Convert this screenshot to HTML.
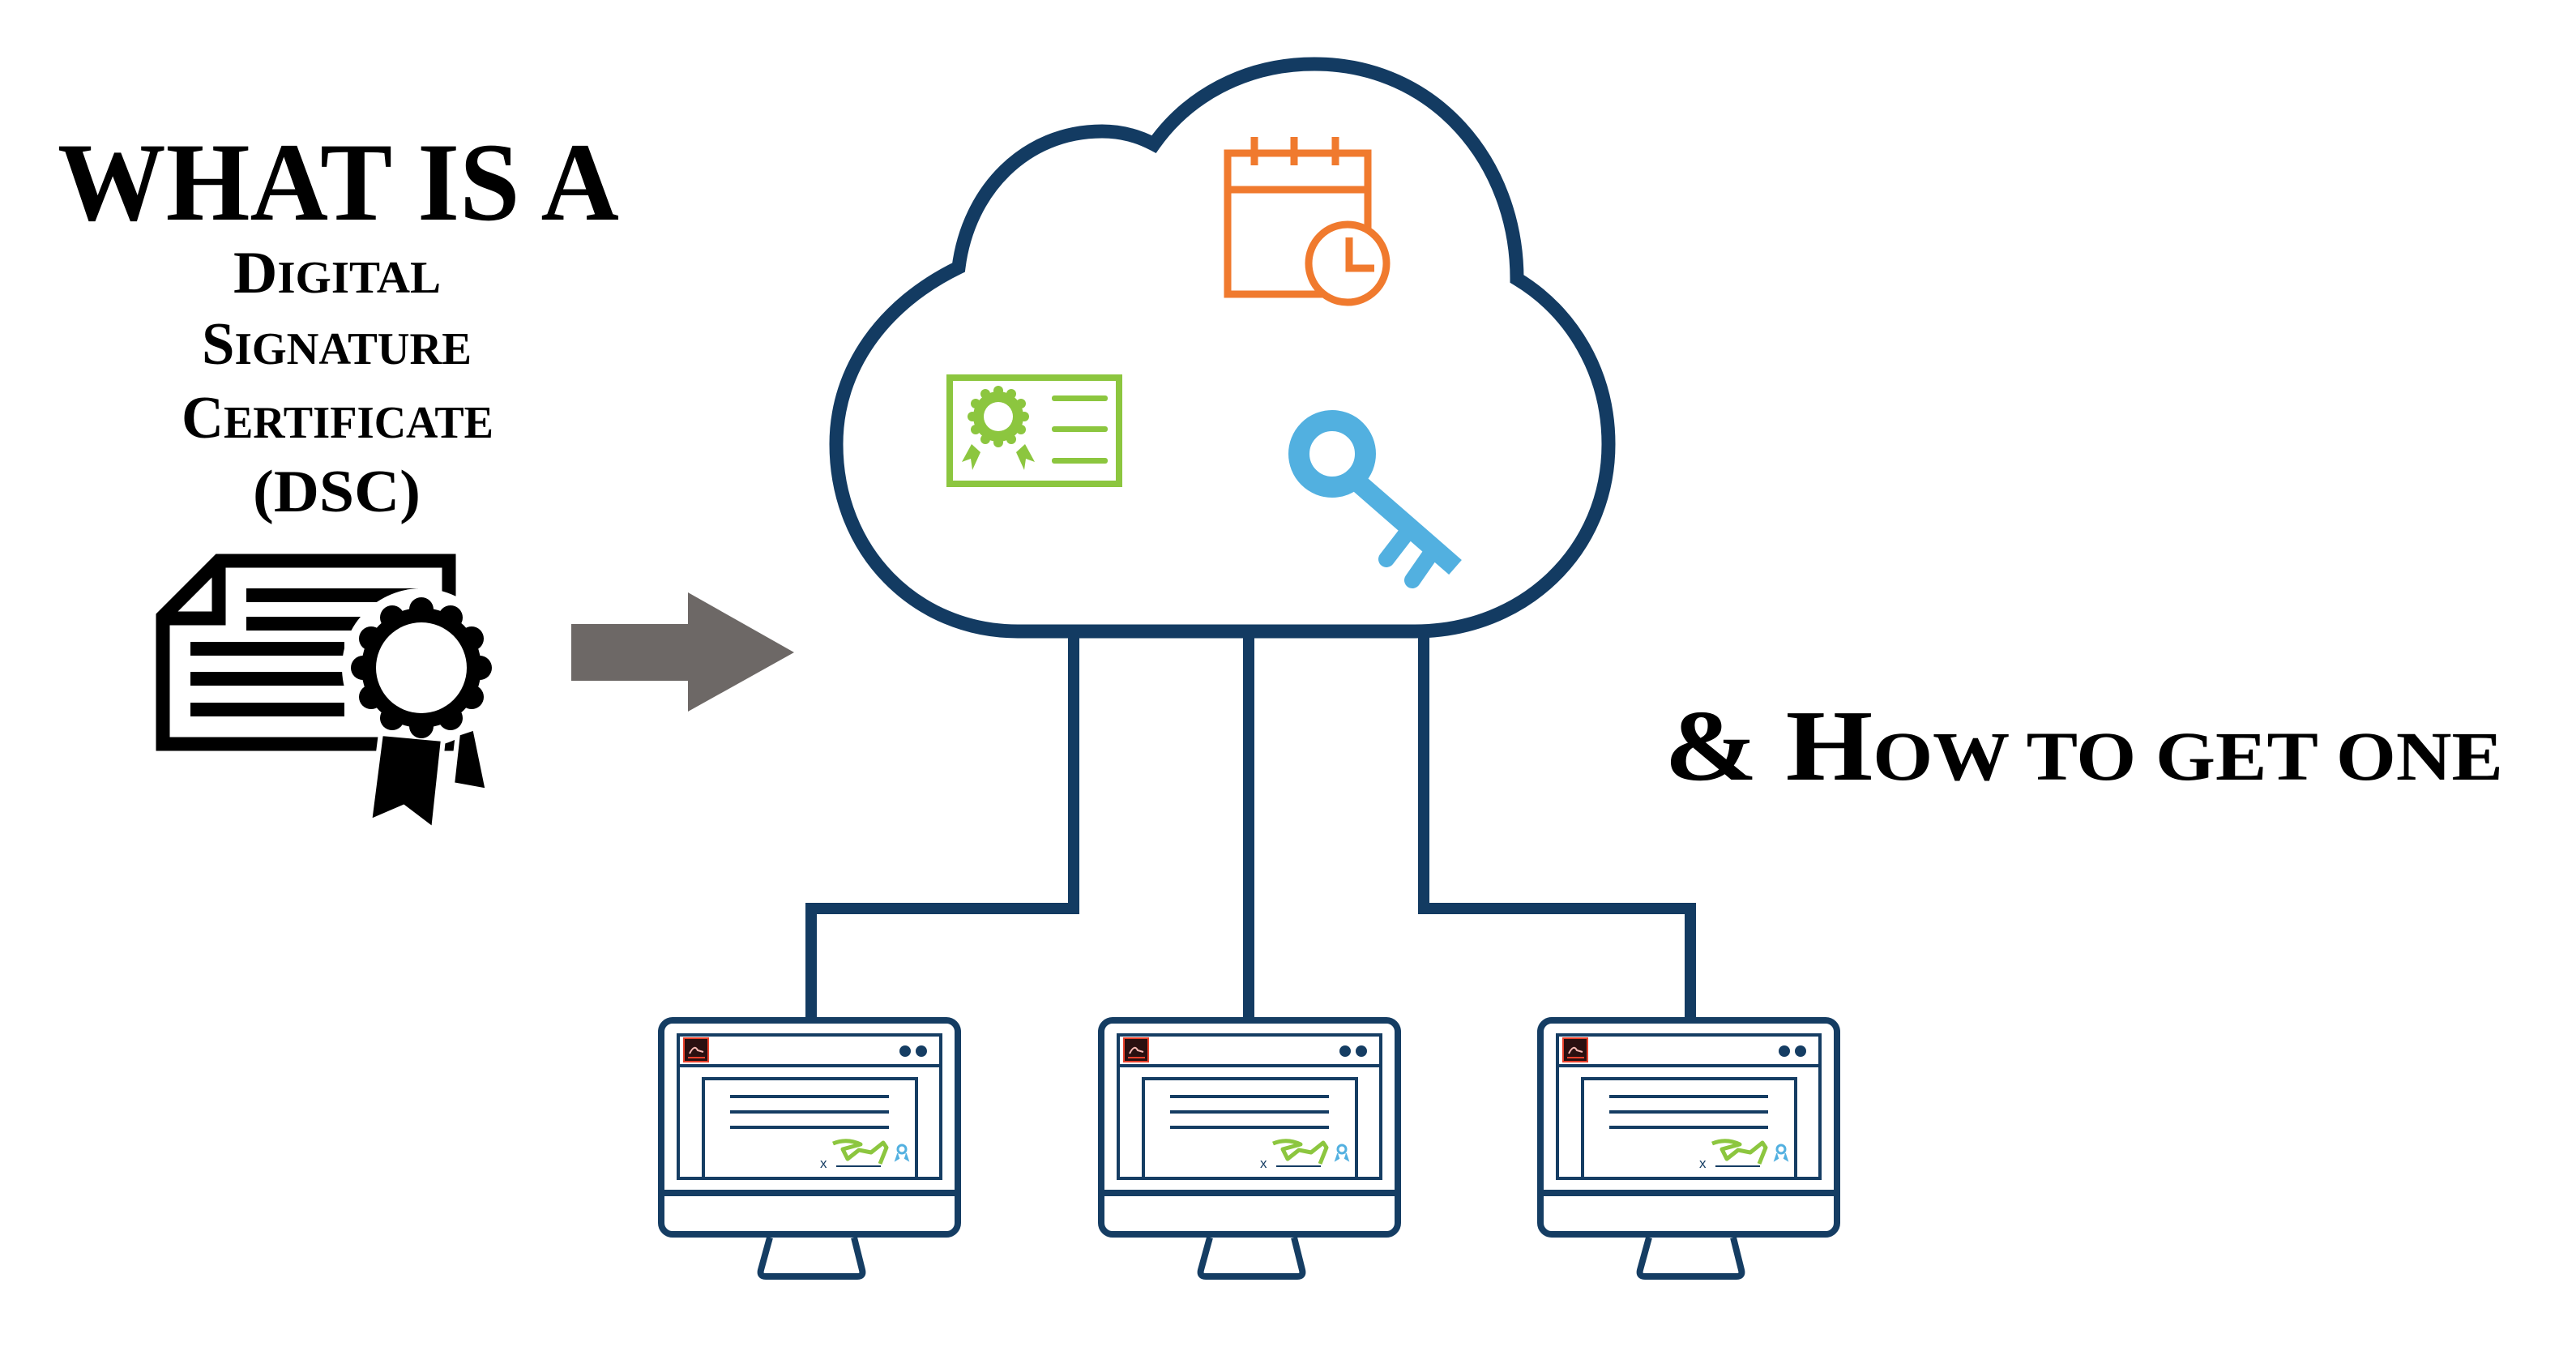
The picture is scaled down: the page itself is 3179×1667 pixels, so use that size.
<!DOCTYPE html>
<html><head><meta charset="utf-8"><style>
html,body{margin:0;padding:0;background:#fff;}
svg{display:block;}
</style></head><body>
<svg width="3179" height="1667" viewBox="0 0 3179 1667" xmlns="http://www.w3.org/2000/svg">
<rect width="3179" height="1667" fill="#fff"/>
<g font-family="'Liberation Serif', serif" font-weight="bold" fill="#000">
<text x="71" y="271" font-size="138" textLength="693" lengthAdjust="spacingAndGlyphs">WHAT IS A</text>
<text x="288" y="361" textLength="256" lengthAdjust="spacingAndGlyphs"><tspan font-size="74">D</tspan><tspan font-size="56">IGITAL</tspan></text>
<text x="249" y="449" textLength="333" lengthAdjust="spacingAndGlyphs"><tspan font-size="74">S</tspan><tspan font-size="56">IGNATURE</tspan></text>
<text x="224" y="540" textLength="385" lengthAdjust="spacingAndGlyphs"><tspan font-size="74">C</tspan><tspan font-size="56">ERTIFICATE</tspan></text>
<text x="312" y="631" font-size="74" textLength="207" lengthAdjust="spacingAndGlyphs">(DSC)</text>
<text x="2054" y="962" textLength="1035" lengthAdjust="spacingAndGlyphs"><tspan font-size="125">&amp; H</tspan><tspan font-size="86">OW TO GET ONE</tspan></text>
</g>
<g>
<path d="M201,918 L201,761 L270,692 L554,692 L554,918 Z" fill="#fff" stroke="#000" stroke-width="17"/>
<polyline points="270,692 270,763 201,763" fill="none" stroke="#000" stroke-width="17"/>
<rect x="304" y="726" width="212" height="17" fill="#000"/>
<rect x="304" y="761" width="145" height="17" fill="#000"/>
<rect x="235" y="792" width="190" height="17" fill="#000"/>
<rect x="235" y="829" width="190" height="17" fill="#000"/>
<rect x="235" y="867" width="190" height="17" fill="#000"/>
<circle cx="520" cy="824" r="98" fill="#fff"/>
<polygon points="470,905 456,1014 498,996 535,1024 547,912" fill="#000" stroke="#fff" stroke-width="6"/>
<polygon points="565,905 586,898 602,976 558,968" fill="#000" stroke="#fff" stroke-width="6"/>
<g fill="#000">
<circle cx="520" cy="824" r="74"/>
<circle cx="520" cy="752" r="15"/><circle cx="556" cy="762" r="15"/><circle cx="582" cy="788" r="15"/>
<circle cx="592" cy="824" r="15"/><circle cx="582" cy="860" r="15"/><circle cx="556" cy="886" r="15"/>
<circle cx="520" cy="896" r="15"/><circle cx="484" cy="886" r="15"/><circle cx="458" cy="860" r="15"/>
<circle cx="448" cy="824" r="15"/><circle cx="458" cy="788" r="15"/><circle cx="484" cy="762" r="15"/>
</g>
<circle cx="520" cy="824" r="56" fill="#fff"/>
</g>
<polygon points="705,770 849,770 849,731 980,805 849,878 849,840 705,840" fill="#6d6866"/>
<path d="M1256,779 L1746,779 C1880,779 1985,680 1985,548 C1985,460 1940,385 1872,344 C1872,200 1770,79 1622,79 C1535,79 1465,120 1424,178 C1405,168 1385,162 1360,162 C1265,162 1195,235 1183,330 C1090,375 1032,455 1032,548 C1032,680 1130,779 1256,779 Z" fill="#fff" stroke="#133b62" stroke-width="17"/>
<g stroke="#f07a2e" stroke-width="9" fill="none">
<rect x="1515" y="189" width="173" height="174"/>
<line x1="1515" y1="234" x2="1688" y2="234"/>
<line x1="1548" y1="169" x2="1548" y2="204"/>
<line x1="1597" y1="169" x2="1597" y2="204"/>
<line x1="1648" y1="169" x2="1648" y2="204"/>
<circle cx="1663" cy="325" r="48" fill="#fff"/>
<polyline points="1665,293 1665,331 1696,331"/>
</g>
<g fill="#8cc63f">
<rect x="1172" y="466" width="209" height="131" fill="none" stroke="#8cc63f" stroke-width="8"/>
<rect x="1298" y="488" width="69" height="7" rx="3"/>
<rect x="1298" y="526" width="69" height="7" rx="3"/>
<rect x="1298" y="565" width="69" height="7" rx="3"/>
<circle cx="1232" cy="514" r="31"/>
<circle cx="1232" cy="482" r="6"/><circle cx="1248" cy="486" r="6"/><circle cx="1260" cy="498" r="6"/>
<circle cx="1264" cy="514" r="6"/><circle cx="1260" cy="530" r="6"/><circle cx="1248" cy="542" r="6"/>
<circle cx="1232" cy="546" r="6"/><circle cx="1216" cy="542" r="6"/><circle cx="1204" cy="530" r="6"/>
<circle cx="1200" cy="514" r="6"/><circle cx="1204" cy="498" r="6"/><circle cx="1216" cy="486" r="6"/>
<circle cx="1232" cy="514" r="18" fill="#fff"/>
<polygon points="1199,548 1187,570 1198,566 1200,580 1210,558"/>
<polygon points="1265,548 1277,570 1266,566 1264,580 1254,558"/>
</g>
<g fill="none" stroke="#52b0e0">
<circle cx="1644" cy="560" r="41" stroke-width="26"/>
<line x1="1672" y1="592" x2="1796" y2="700" stroke-width="24"/>
<line x1="1738" y1="655" x2="1711" y2="690" stroke-width="20" stroke-linecap="round"/>
<line x1="1768" y1="680" x2="1743" y2="716" stroke-width="20" stroke-linecap="round"/>
</g>
<g stroke="#133b62" stroke-width="14" fill="none">
<polyline points="1325,780 1325,1121 1001,1121 1001,1262"/>
<polyline points="1541,780 1541,1262"/>
<polyline points="1757,780 1757,1121 2086,1121 2086,1262"/>
</g>
<defs>
<g id="mon">
<rect x="816" y="1259" width="366" height="264" rx="14" fill="#fff" stroke="#153d63" stroke-width="8"/>
<line x1="816" y1="1472" x2="1182" y2="1472" stroke="#153d63" stroke-width="8"/>
<path d="M950,1527 L939,1567 Q937,1575 945,1575 L1058,1575 Q1066,1575 1064,1567 L1054,1527" fill="none" stroke="#153d63" stroke-width="8" stroke-linejoin="round"/>
<rect x="837" y="1277" width="324" height="177" fill="none" stroke="#153d63" stroke-width="4"/>
<line x1="837" y1="1315" x2="1161" y2="1315" stroke="#153d63" stroke-width="4"/>
<rect x="844" y="1281" width="30" height="29" fill="#2a1010" stroke="#e8402a" stroke-width="2"/>
<path d="M851,1300 Q857,1288 861,1296 L868,1298" stroke="#f4b7b0" stroke-width="2" fill="none"/>
<line x1="849" y1="1305" x2="870" y2="1305" stroke="#e8402a" stroke-width="2"/>
<circle cx="1117" cy="1297" r="7" fill="#153d63"/>
<circle cx="1137" cy="1297" r="7" fill="#153d63"/>
<polyline points="868,1454 868,1331 1131,1331 1131,1454" fill="none" stroke="#153d63" stroke-width="4"/>
<line x1="901" y1="1353" x2="1097" y2="1353" stroke="#153d63" stroke-width="4"/>
<line x1="901" y1="1372" x2="1097" y2="1372" stroke="#153d63" stroke-width="4"/>
<line x1="901" y1="1391" x2="1097" y2="1391" stroke="#153d63" stroke-width="4"/>
<text x="1012" y="1441" font-family="'Liberation Sans', sans-serif" font-size="17" fill="#153d63">x</text>
<line x1="1032" y1="1439" x2="1087" y2="1439" stroke="#153d63" stroke-width="2"/>
<path d="M1028,1411 Q1045,1404 1062,1412 L1040,1418 L1046,1430 L1060,1419 L1075,1422 L1090,1410 L1094,1416 L1086,1436" fill="none" stroke="#8cc63f" stroke-width="5" stroke-linejoin="round"/>
<circle cx="1113" cy="1418" r="5" fill="none" stroke="#52b0e0" stroke-width="3"/>
<polyline points="1108,1423 1105,1432 1110,1429" fill="#52b0e0" stroke="#52b0e0" stroke-width="1.5"/>
<polyline points="1118,1423 1121,1432 1116,1429" fill="#52b0e0" stroke="#52b0e0" stroke-width="1.5"/>
</g>
</defs>
<use href="#mon"/>
<use href="#mon" transform="translate(543,0)"/>
<use href="#mon" transform="translate(1085,0)"/>
</svg>
</body></html>
